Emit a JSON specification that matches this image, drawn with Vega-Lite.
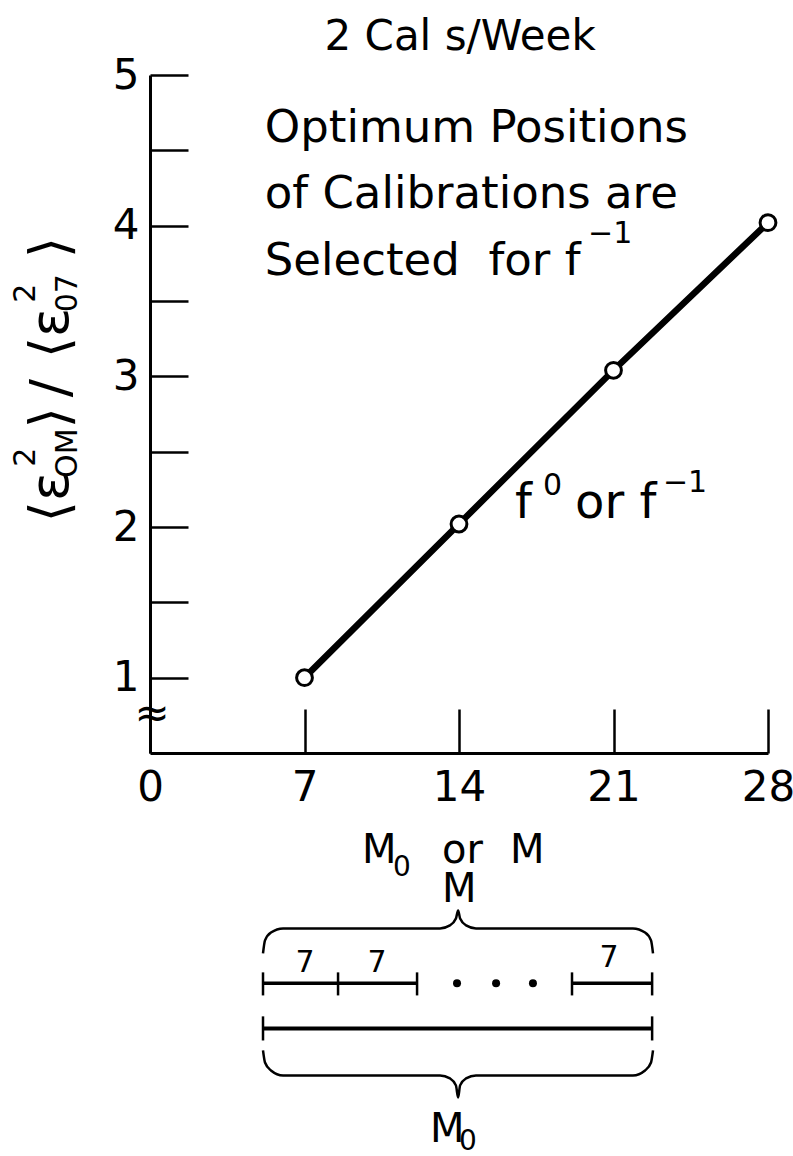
{
  "$schema": "https://vega.github.io/schema/vega-lite/v6.json",
  "width": 618,
  "height": 678,
  "autosize": {"type": "none"},
  "padding": {"left": 150, "top": 75, "right": 25, "bottom": 403},
  "background": "white",
  "config": {
    "view": {"stroke": null},
    "font": "DejaVu Sans",
    "text": {"font": "DejaVu Sans", "color": "black"}
  },
  "datasets": {
    "series": [
      {"x": 7, "y": 1.0},
      {"x": 14, "y": 2.02},
      {"x": 21, "y": 3.04},
      {"x": 28, "y": 4.02}
    ],
    "titleText": [{"x": 14.05, "y": 5.166, "label": "2 Cal s/Week"}],
    "notes": [
      {"x": 5.2, "y": 4.555, "label": "Optimum Positions"},
      {"x": 5.2, "y": 4.117, "label": "of Calibrations are"},
      {"x": 5.2, "y": 3.672, "label": "Selected\u00a0\u00a0for f"}
    ],
    "noteSup": [
      {"x": 19.85, "y": 3.884, "label": "−1"},
      {"x": 17.81, "y": 2.211, "label": "0"},
      {"x": 23.24, "y": 2.231, "label": "−1"}
    ],
    "curveLabel": [
      {"x": 16.54, "y": 2.058, "label": "f"},
      {"x": 19.26, "y": 2.058, "label": "or f"}
    ],
    "yTitleMain": [
      {"x": -4.44, "y": 2.032, "label": "⟨ε"},
      {"x": -4.44, "y": 2.656, "label": "⟩"},
      {"x": -4.44, "y": 2.862, "label": "/"},
      {"x": -4.44, "y": 3.121, "label": "⟨ε"},
      {"x": -4.44, "y": 3.785, "label": "⟩"}
    ],
    "yTitleSmall": [
      {"x": -5.62, "y": 2.463, "label": "2"},
      {"x": -3.72, "y": 2.49, "label": "OM"},
      {"x": -5.62, "y": 3.552, "label": "2"},
      {"x": -3.72, "y": 3.552, "label": "07"}
    ],
    "breakMark": [{"x": 0.1, "y": 0.757, "label": "≈"}],
    "diagramText": [
      {"x": 9.61, "y": -0.232, "label": "M"},
      {"x": 13.23, "y": -0.232, "label": "or"},
      {"x": 16.31, "y": -0.232, "label": "M"},
      {"x": 13.23, "y": -0.491, "label": "M"},
      {"x": 12.69, "y": -2.085, "label": "M"}
    ],
    "diagramSub": [
      {"x": 11.01, "y": -0.319, "label": "0"},
      {"x": 14.0, "y": -2.138, "label": "0"}
    ],
    "spanLabels": [
      {"x": 7.02, "y": -0.956, "label": "7"},
      {"x": 10.29, "y": -0.956, "label": "7"},
      {"x": 20.8, "y": -0.923, "label": "7"}
    ],
    "braces": [
      {"brace": "top", "i": 0, "x": 5.12, "y": -0.83},
      {"brace": "top", "i": 1, "x": 5.21, "y": -0.744},
      {"brace": "top", "i": 2, "x": 5.48, "y": -0.691},
      {"brace": "top", "i": 3, "x": 6.03, "y": -0.664},
      {"brace": "top", "i": 4, "x": 13.14, "y": -0.664},
      {"brace": "top", "i": 5, "x": 13.59, "y": -0.644},
      {"brace": "top", "i": 6, "x": 13.86, "y": -0.598},
      {"brace": "top", "i": 7, "x": 13.96, "y": -0.545},
      {"brace": "top", "i": 8, "x": 14.05, "y": -0.598},
      {"brace": "top", "i": 9, "x": 14.32, "y": -0.644},
      {"brace": "top", "i": 10, "x": 14.77, "y": -0.664},
      {"brace": "top", "i": 11, "x": 21.88, "y": -0.664},
      {"brace": "top", "i": 12, "x": 22.43, "y": -0.691},
      {"brace": "top", "i": 13, "x": 22.7, "y": -0.744},
      {"brace": "top", "i": 14, "x": 22.79, "y": -0.83},
      {"brace": "bottom", "i": 0, "x": 5.12, "y": -1.474},
      {"brace": "bottom", "i": 1, "x": 5.21, "y": -1.554},
      {"brace": "bottom", "i": 2, "x": 5.48, "y": -1.607},
      {"brace": "bottom", "i": 3, "x": 6.03, "y": -1.64},
      {"brace": "bottom", "i": 4, "x": 13.14, "y": -1.64},
      {"brace": "bottom", "i": 5, "x": 13.59, "y": -1.66},
      {"brace": "bottom", "i": 6, "x": 13.86, "y": -1.706},
      {"brace": "bottom", "i": 7, "x": 13.96, "y": -1.786},
      {"brace": "bottom", "i": 8, "x": 14.05, "y": -1.706},
      {"brace": "bottom", "i": 9, "x": 14.32, "y": -1.66},
      {"brace": "bottom", "i": 10, "x": 14.77, "y": -1.64},
      {"brace": "bottom", "i": 11, "x": 21.88, "y": -1.64},
      {"brace": "bottom", "i": 12, "x": 22.43, "y": -1.607},
      {"brace": "bottom", "i": 13, "x": 22.7, "y": -1.554},
      {"brace": "bottom", "i": 14, "x": 22.79, "y": -1.474}
    ],
    "segments": [
      {"x": 5.12, "x2": 12.1, "y": -1.029},
      {"x": 19.12, "x2": 22.75, "y": -1.029}
    ],
    "totalSpan": [{"x": 5.12, "x2": 22.75, "y": -1.328}],
    "endTicks": [
      {"x": 5.12, "y": -0.956, "y2": -1.109},
      {"x": 8.52, "y": -0.956, "y2": -1.109},
      {"x": 12.1, "y": -0.956, "y2": -1.109},
      {"x": 19.12, "y": -0.956, "y2": -1.109},
      {"x": 22.75, "y": -0.956, "y2": -1.109},
      {"x": 5.12, "y": -1.248, "y2": -1.408},
      {"x": 22.75, "y": -1.248, "y2": -1.408}
    ],
    "dots": [
      {"x": 13.91, "y": -1.029},
      {"x": 15.68, "y": -1.029},
      {"x": 17.35, "y": -1.029}
    ]
  },
  "encoding": {
    "x": {
      "field": "x",
      "type": "quantitative",
      "scale": {"domain": [0, 28], "nice": false, "zero": false},
      "axis": {
        "values": [0, 7, 14, 21, 28],
        "title": null,
        "grid": false,
        "domainColor": "black",
        "domainWidth": 3,
        "tickColor": "black",
        "tickWidth": 2.5,
        "tickSize": -44,
        "labelFont": "DejaVu Sans",
        "labelFontSize": 42,
        "labelColor": "black",
        "labelPadding": 58,
        "labelFlush": false,
        "labelOverlap": false
      }
    },
    "y": {
      "field": "y",
      "type": "quantitative",
      "scale": {"domain": [0.5, 5], "nice": false, "zero": false},
      "axis": {
        "values": [1, 1.5, 2, 2.5, 3, 3.5, 4, 4.5, 5],
        "labelExpr": "datum.value % 1 === 0 ? format(datum.value, 'd') : ''",
        "title": null,
        "grid": false,
        "domainColor": "black",
        "domainWidth": 3,
        "tickColor": "black",
        "tickWidth": 2.5,
        "tickSize": -38,
        "labelFont": "DejaVu Sans",
        "labelFontSize": 42,
        "labelColor": "black",
        "labelPadding": 49,
        "labelFlush": false,
        "labelOverlap": false
      }
    }
  },
  "layer": [
    {"data": {"name": "series"}, "mark": {"type": "line", "color": "black", "strokeWidth": 6.5}},
    {"data": {"name": "series"}, "mark": {"type": "point", "shape": "circle", "filled": true, "fill": "white", "stroke": "black", "strokeWidth": 3, "size": 250, "opacity": 1}},
    {"data": {"name": "breakMark"}, "mark": {"type": "text", "fontSize": 42, "align": "center", "baseline": "middle"}, "encoding": {"text": {"field": "label"}}},
    {"data": {"name": "titleText"}, "mark": {"type": "text", "fontSize": 42, "align": "center", "baseline": "alphabetic"}, "encoding": {"text": {"field": "label"}}},
    {"data": {"name": "notes"}, "mark": {"type": "text", "fontSize": 45, "align": "left", "baseline": "alphabetic"}, "encoding": {"text": {"field": "label"}}},
    {"data": {"name": "noteSup"}, "mark": {"type": "text", "fontSize": 30, "align": "left", "baseline": "alphabetic"}, "encoding": {"text": {"field": "label"}}},
    {"data": {"name": "curveLabel"}, "mark": {"type": "text", "fontSize": 48, "align": "left", "baseline": "alphabetic"}, "encoding": {"text": {"field": "label"}}},
    {"data": {"name": "yTitleMain"}, "mark": {"type": "text", "fontSize": 54, "angle": 270, "align": "left", "baseline": "middle"}, "encoding": {"text": {"field": "label"}}},
    {"data": {"name": "yTitleSmall"}, "mark": {"type": "text", "fontSize": 30, "angle": 270, "align": "center", "baseline": "middle"}, "encoding": {"text": {"field": "label"}}},
    {"data": {"name": "diagramText"}, "mark": {"type": "text", "fontSize": 40, "align": "left", "baseline": "alphabetic"}, "encoding": {"text": {"field": "label"}}},
    {"data": {"name": "diagramSub"}, "mark": {"type": "text", "fontSize": 28, "align": "left", "baseline": "alphabetic"}, "encoding": {"text": {"field": "label"}}},
    {"data": {"name": "spanLabels"}, "mark": {"type": "text", "fontSize": 30, "align": "center", "baseline": "alphabetic"}, "encoding": {"text": {"field": "label"}}},
    {"data": {"name": "braces"}, "mark": {"type": "line", "color": "black", "strokeWidth": 2.5, "interpolate": "monotone"}, "encoding": {"detail": {"field": "brace"}, "order": {"field": "i", "type": "quantitative"}}},
    {"data": {"name": "segments"}, "mark": {"type": "rule", "color": "black", "strokeWidth": 3.5}, "encoding": {"x2": {"field": "x2"}}},
    {"data": {"name": "totalSpan"}, "mark": {"type": "rule", "color": "black", "strokeWidth": 4}, "encoding": {"x2": {"field": "x2"}}},
    {"data": {"name": "endTicks"}, "mark": {"type": "rule", "color": "black", "strokeWidth": 2.5}, "encoding": {"y2": {"field": "y2"}}},
    {"data": {"name": "dots"}, "mark": {"type": "point", "shape": "circle", "filled": true, "color": "black", "size": 64, "opacity": 1}}
  ]
}
